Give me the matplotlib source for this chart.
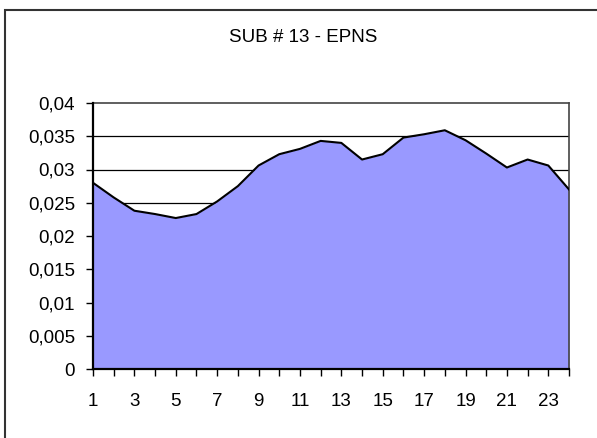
import matplotlib
matplotlib.use("Agg")
import matplotlib.pyplot as plt
import matplotlib.ticker as mticker
from matplotlib.patches import Rectangle

# hourly values
hours = list(range(1, 25))
epns = [0.0280, 0.0258, 0.0238, 0.0233, 0.0227, 0.0233, 0.0252, 0.0275,
        0.0306, 0.0323, 0.0331, 0.0343, 0.0340, 0.0315, 0.0323, 0.0348,
        0.0353, 0.0359, 0.0344, 0.0324, 0.0303, 0.0315, 0.0306, 0.0270]
y_ticks = [0, 0.005, 0.01, 0.015, 0.02, 0.025, 0.03, 0.035, 0.04]
title = "SUB # 13 - EPNS"

plt.rcParams['font.family'] = ['Liberation Sans', 'DejaVu Sans']

fig = plt.figure(figsize=(5.97, 4.38), dpi=100)
# outer chart border (only top and left edges visible)
fig.patches.append(Rectangle((4.5 / 597, -0.05), 1.2, (438 - 9.5) / 438 + 0.05,
                             transform=fig.transFigure, fill=False,
                             edgecolor='#333333', linewidth=1.5))

ax = fig.add_axes([93 / 597, (438 - 369) / 438, (569 - 93) / 597, (369 - 103) / 438])

for t in y_ticks[1:-1]:
    ax.axhline(t, color='black', linewidth=0.9, zorder=1)

ax.fill_between(hours, epns, 0, color='#9999FF', zorder=2, linewidth=0)
ax.plot(hours, epns, color='black', linewidth=1.5, zorder=3)

ax.set_xlim(1, 24)
ax.set_ylim(0, 0.04)
ax.set_yticks(y_ticks)
ax.yaxis.set_major_formatter(mticker.FuncFormatter(
    lambda v, p: ('%g' % round(v, 3)).replace('.', ',')))
ax.set_xticks(hours)
ax.set_xticklabels([str(h) if h % 2 == 1 else '' for h in hours])

ax.tick_params(axis='both', direction='out', length=5, width=1, colors='black',
               labelsize=13.5)
ax.tick_params(axis='x', pad=12)
ax.tick_params(axis='y', pad=8)

for s in ['left', 'bottom']:
    ax.spines[s].set_linewidth(1.6)
    ax.spines[s].set_color('black')
for s in ['top', 'right']:
    ax.spines[s].set_linewidth(1.2)
    ax.spines[s].set_color('#444444')
ax.spines['bottom'].set_zorder(5)
ax.spines['left'].set_zorder(5)

fig.text(303 / 597, 1 - 37 / 438, title, ha='center', va='center', fontsize=13.5)

fig.savefig("out.png", dpi=100)
